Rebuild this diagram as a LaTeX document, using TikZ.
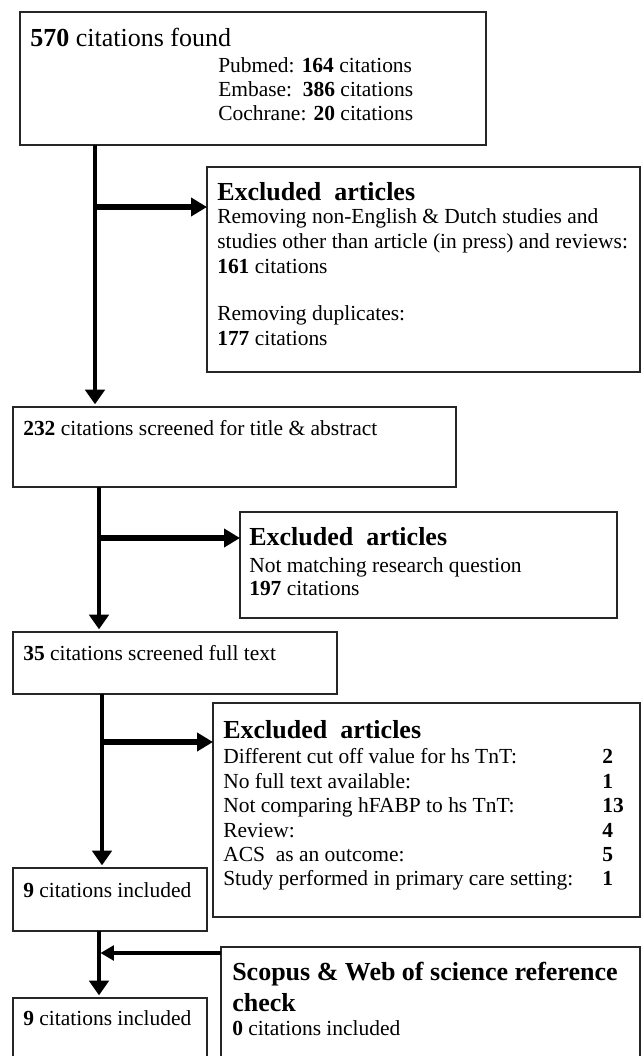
\documentclass[tikz,border=0pt]{standalone}
\usepackage{fontspec}
\setmainfont{Liberation Serif}
\usetikzlibrary{arrows.meta}
\begin{document}
\begin{tikzpicture}[x=0.75pt,y=-0.75pt,
  box/.style={draw=black!85,line width=1.1pt,inner sep=0pt,outer sep=0pt,anchor=north west},
  sz/.style 2 args={minimum width=#1*0.75pt,minimum height=#2*0.75pt},
  body/.style={anchor=base west,inner sep=0pt,font=\fontsize{16.1}{19}\selectfont},
  big/.style={anchor=base west,inner sep=0pt,font=\fontsize{19.5}{23}\selectfont\bfseries},
  vflow/.style={line width=3pt,-{Triangle[length=11pt,width=14.5pt]},shorten >=2pt},
  hflow/.style={line width=3.8pt,-{Triangle[length=12pt,width=13.5pt]}},
  sflow/.style={line width=2.3pt,-{Triangle[length=10pt,width=11pt]}},
]
\useasboundingbox (0,0) rectangle (641,1056);
\clip (0,0) rectangle (641,1056);
\fill[white] (0,0) rectangle (641,1056);

% boxes
\node[box,sz={466}{133}] (b1) at (20,12) {};
\node[box,sz={433}{205}] (e1) at (207,167) {};
\node[box,sz={443}{80}] (b2) at (13,407) {};
\node[box,sz={377}{106}] (e2) at (240,512) {};
\node[box,sz={324}{62}] (b3) at (13,632) {};
\node[box,sz={427}{214}] (e3) at (213,703) {};
\node[box,sz={194}{63}] (b4) at (13,868) {};
\node[box,sz={194}{80}] (b5) at (13,998) {};
\node[box,sz={419}{130}] (e4) at (221,947) {};

% texts box 1
\node[big,font=\fontsize{19.5}{23}\selectfont] (t1) at (30,47) {\textbf{570} citations found};
\node[body] (t1a) at (218,73) {Pubmed: \textbf{164} citations};
\node[body] (t1b) at (218,97) {Embase:\ \ \textbf{386} citations};
\node[body] (t1c) at (218,120) {Cochrane: \textbf{20} citations};

% excluded 1
\node[big] (h1) at (217,200) {Excluded\ \ articles};
\node[body] (h1a) at (217,223) {Removing non-English \& Dutch studies and};
\node[body] (h1b) at (217,248) {studies other than article (in press) and reviews:};
\node[body] (h1c) at (217,273) {\textbf{161} citations};
\node[body] (h1d) at (217,320) {Removing duplicates:};
\node[body] (h1e) at (217,345) {\textbf{177} citations};

% box 2
\node[body] (t2) at (23,435) {\textbf{232} citations screened for title \& abstract};

% excluded 2
\node[big] (h2) at (249,545) {Excluded\ \ articles};
\node[body] (h2a) at (249,572) {Not matching research question};
\node[body] (h2b) at (249,595) {\textbf{197} citations};

% box 3
\node[body] (t3) at (23,660) {\textbf{35} citations screened full text};

% excluded 3
\node[big] (h3) at (223,738) {Excluded\ \ articles};
\node[body] (h3a) at (223,763) {Different cut off value for hs TnT:};
\node[body] (h3b) at (223,788) {No full text available:};
\node[body] (h3c) at (223,812) {Not comparing hFABP to hs TnT:};
\node[body] (h3d) at (223,837) {Review:};
\node[body] (h3e) at (223,861) {ACS\ \ as an outcome:};
\node[body] (h3f) at (223,885) {Study performed in primary care setting:};
\node[body] (n3a) at (602,763) {\textbf{2}};
\node[body] (n3b) at (602,788) {\textbf{1}};
\node[body] (n3c) at (602,812) {\textbf{13}};
\node[body] (n3d) at (602,837) {\textbf{4}};
\node[body] (n3e) at (602,861) {\textbf{5}};
\node[body] (n3f) at (602,885) {\textbf{1}};

% boxes 4,5
\node[body] (t4) at (23,897) {\textbf{9} citations included};
\node[body] (t5) at (23,1025) {\textbf{9} citations included};

% scopus
\node[big] (h4) at (232,980) {Scopus \& Web of science reference};
\node[big] (h4b) at (232,1011) {check};
\node[body] (h4c) at (232,1035) {\textbf{0} citations included};

% connector coordinates
\coordinate (x1) at (95,0);
\coordinate (x2) at (99,0);
\coordinate (x3) at (102,0);
\coordinate (x4) at (99,0);
\coordinate (j1) at (95,207);
\coordinate (j2) at (99,538);
\coordinate (j3) at (102,742);
\coordinate (j4) at (99,953);

% main flow
\draw[vflow] (b1.south -| x1) -- (b2.north -| x1);
\draw[vflow] (b2.south -| x2) -- (b3.north -| x2);
\draw[vflow] (b3.south -| x3) -- (b4.north -| x3);
\draw[vflow] (b4.south -| x4) -- (b5.north -| x4);

% branches
\draw[hflow] (j1) -- (j1 -| e1.west);
\draw[hflow] (j2) -- (j2 -| e2.west);
\draw[hflow] (j3) -- (j3 -| e3.west);
\draw[sflow] (j4 -| e4.west) -- ([xshift=1.1pt]j4);
\end{tikzpicture}
\end{document}
